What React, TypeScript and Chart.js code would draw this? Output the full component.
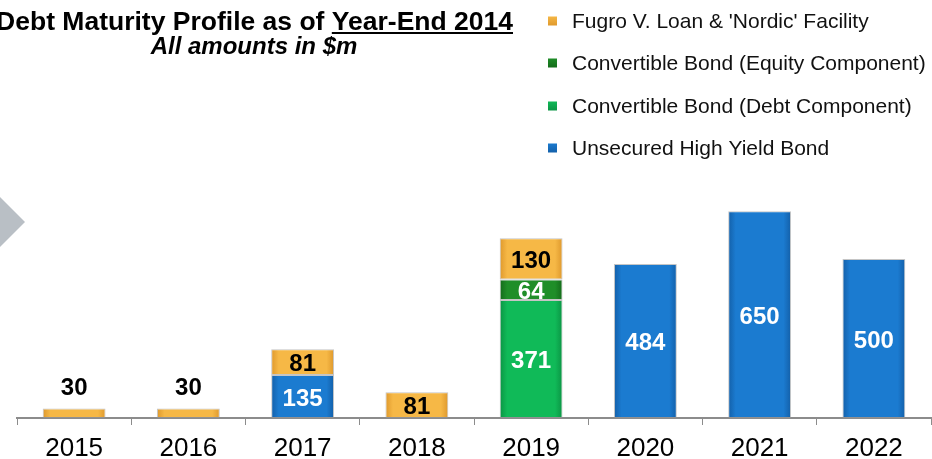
import React, { useEffect, useRef } from "react";
import { Chart, registerables } from "chart.js";

Chart.register(...registerables);

const years = ["2015", "2016", "2017", "2018", "2019", "2020", "2021", "2022"];
const unsecuredHighYield = [null, null, 135, null, null, 484, 650, 500];
const convertibleDebt = [null, null, null, null, 371, null, null, null];
const convertibleEquity = [null, null, null, null, 64, null, null, null];
const fugroLoanNordic = [30, 30, 81, 81, 130, null, null, null];

const seriesNames = [
  "Unsecured High Yield Bond",
  "Convertible Bond (Debt Component)",
  "Convertible Bond (Equity Component)",
  "Fugro V. Loan & 'Nordic' Facility",
];

const FONT = "'Liberation Sans', Arial, Helvetica, sans-serif";

const palette = [
  { base: "#1B7BD0", edge: "#135FA8", label: "#ffffff" },
  { base: "#10BA58", edge: "#0B9444", label: "#ffffff" },
  { base: "#1F8E28", edge: "#146A1A", label: "#ffffff" },
  { base: "#F6B846", edge: "#DE982C", label: "#000000" },
];

const BAR_PCT = 0.55;

function gradientFill(i: number) {
  return (ctx: any) => {
    const chart = ctx.chart;
    const area = chart.chartArea;
    const xs = chart.scales?.x;
    if (!area || !xs || ctx.dataIndex === undefined) return palette[i].base;
    const cx = xs.getPixelForValue(ctx.dataIndex);
    const w = (BAR_PCT * area.width) / years.length;
    const g = chart.ctx.createLinearGradient(cx - w / 2, 0, cx + w / 2, 0);
    g.addColorStop(0, palette[i].edge);
    g.addColorStop(0.12, palette[i].base);
    g.addColorStop(0.88, palette[i].base);
    g.addColorStop(1, palette[i].edge);
    return g;
  };
}

const decorPlugin = {
  id: "decor",
  afterDraw(chart: any) {
    const c = chart.ctx;
    c.save();
    // chevron
    c.fillStyle = "#B9BFC5";
    c.beginPath();
    c.moveTo(0, 197);
    c.lineTo(25, 222);
    c.lineTo(0, 247);
    c.closePath();
    c.fill();

    // title
    c.fillStyle = "#000";
    c.textBaseline = "alphabetic";
    c.font = `bold 26.5px ${FONT}`;
    const title = "Debt Maturity Profile as of ";
    const under = "Year-End 2014";
    const wu = c.measureText(under).width;
    const right = 513;
    c.textAlign = "right";
    c.fillText(under, right, 30);
    c.fillText(title, right - wu, 30);
    c.fillRect(right - wu, 32, wu, 2);

    c.font = `italic bold 24px ${FONT}`;
    c.textAlign = "center";
    c.fillText("All amounts in $m", 254, 54);

    // legend
    const order = [3, 2, 1, 0];
    const rows = [21, 63, 106, 148];
    c.font = `21px ${FONT}`;
    c.textAlign = "left";
    c.textBaseline = "middle";
    order.forEach((di, k) => {
      const y = rows[k];
      const g = c.createLinearGradient(0, y - 5, 0, y + 5);
      g.addColorStop(0, palette[di].base);
      g.addColorStop(1, palette[di].edge);
      c.fillStyle = g;
      c.fillRect(548, y - 4.5, 9, 9);
      c.fillStyle = "#111";
      c.fillText(seriesNames[di], 572, y + 1);
    });
    c.restore();
  },
  afterDatasetsDraw(chart: any) {
    const c = chart.ctx;
    c.save();
    c.font = `bold 24px ${FONT}`;
    c.textAlign = "center";
    c.textBaseline = "middle";
    chart.data.datasets.forEach((ds: any, di: number) => {
      const meta = chart.getDatasetMeta(di);
      meta.data.forEach((el: any, i: number) => {
        const v = ds.data[i];
        if (v === null || v === undefined) return;
        const top = Math.min(el.y, el.base);
        const bot = Math.max(el.y, el.base);
        const h = bot - top;
        if (h < 18) {
          c.fillStyle = "#000";
          c.fillText(String(v), el.x, top - 20);
        } else {
          c.fillStyle = palette[di].label;
          c.fillText(String(v), el.x, (top + bot) / 2 + 2.5);
        }
      });
    });
    c.restore();
  },
};

export default function App() {
  const ref = useRef<HTMLCanvasElement>(null);
  useEffect(() => {
    if (!ref.current) return;
    const datasets = [unsecuredHighYield, convertibleDebt, convertibleEquity, fugroLoanNordic].map(
      (d, i) => ({
        label: seriesNames[i],
        data: d,
        backgroundColor: gradientFill(i),
        borderColor: "rgba(150,150,150,0.55)",
        borderWidth: 1,
        borderSkipped: false,
        categoryPercentage: 1,
        barPercentage: BAR_PCT,
        stack: "s",
      })
    );
    const chart = new Chart(ref.current, {
      type: "bar",
      data: { labels: years, datasets },
      options: {
        responsive: false,
        animation: false,
        devicePixelRatio: 1,
        layout: { padding: { left: 17, right: 1, top: 165, bottom: 0 } },
        plugins: { legend: { display: false }, tooltip: { enabled: false }, title: { display: false } },
        scales: {
          x: {
            stacked: true,
            afterFit: (scale: any) => {
              scale.height = 41;
            },
            grid: {
              offset: true,
              drawOnChartArea: false,
              drawTicks: true,
              tickLength: 7,
              color: "#8c8c8c",
              lineWidth: 1,
            },
            border: { display: true, color: "#8c8c8c", width: 2 },
            ticks: { color: "#000", font: { size: 26, family: FONT, lineHeight: 1 }, padding: 11 },
          },
          y: { stacked: true, display: false, min: 0, max: 795 },
        },
      },
      plugins: [decorPlugin],
    });
    return () => chart.destroy();
  }, []);
  return (
    <div style={{ position: "fixed", left: 0, top: 0, width: 932, height: 459, background: "#fff" }}>
      <canvas ref={ref} width={932} height={459} />
    </div>
  );
}
